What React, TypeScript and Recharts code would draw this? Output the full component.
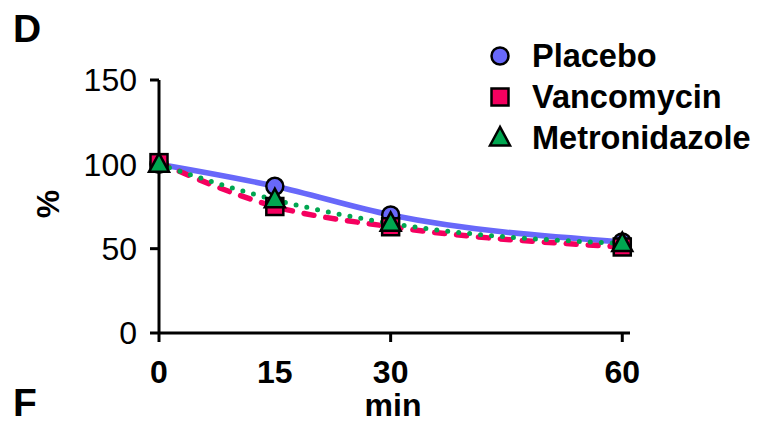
import { LineChart, Line, XAxis, YAxis } from 'recharts'

const FONT = '"Liberation Sans", Arial, sans-serif'

const TIMES = [0, 15, 30, 60]
const PLACEBO = [100, 87, 70, 54]
const VANCOMYCIN = [101, 75, 63, 51]
const METRONIDAZOLE = [100, 79, 65, 53]
const X_TICKS = [0, 15, 30, 60]
const X_TICK_MARKS = [0, 30, 60]
const Y_TICKS = [0, 50, 100, 150]

const BLUE = '#6868fa'
const PINK = '#f5005f'
const GREEN = '#00a650'

const data = TIMES.map((t, i) => ({
  t,
  placebo: PLACEBO[i],
  vanco: VANCOMYCIN[i],
  metro: METRONIDAZOLE[i],
}))

type Shape = 'circle' | 'square' | 'triangle'

function Marker({ shape, cx, cy, fill }: { shape: Shape; cx?: number; cy?: number; fill: string }) {
  if (cx == null || cy == null) return null
  if (shape === 'circle') return <circle cx={cx} cy={cy} r={8.5} fill={fill} stroke="#000" strokeWidth={2.5} />
  if (shape === 'square') return <rect x={cx - 8.5} y={cy - 8.5} width={17} height={17} fill={fill} stroke="#000" strokeWidth={2.5} />
  return (
    <polygon
      points={`${cx},${cy - 11} ${cx - 10},${cy + 7.5} ${cx + 10},${cy + 7.5}`}
      fill={fill} stroke="#000" strokeWidth={2.5} strokeLinejoin="miter"
    />
  )
}

function dotFor(shape: Shape, fill: string) {
  return (p: any) => <Marker key={`${shape}-${p.index}`} shape={shape} cx={p.cx} cy={p.cy} fill={fill} />
}

function XTick(props: any) {
  const { x, y, payload } = props
  const v = payload.value
  return (
    <g>
      {X_TICK_MARKS.includes(v) && <line x1={x} x2={x} y1={y} y2={y + 9} stroke="#000" strokeWidth={3} />}
      <text x={x} y={y + 50} textAnchor="middle" fontFamily={FONT} fontSize={32} fontWeight="bold" fill="#000">
        {v}
      </text>
    </g>
  )
}

const LEGEND = [
  { name: 'Placebo', shape: 'circle' as Shape, fill: BLUE },
  { name: 'Vancomycin', shape: 'square' as Shape, fill: PINK },
  { name: 'Metronidazole', shape: 'triangle' as Shape, fill: GREEN },
]

export default function App() {
  return (
    <div style={{ position: 'absolute', left: 0, top: 0, width: 776, height: 423, background: '#fff' }}>
      <LineChart width={776} height={423} data={data} margin={{ top: 80, right: 146, bottom: 0, left: 0 }}>
        <XAxis
          dataKey="t" type="number" domain={[0, 61]} ticks={X_TICKS} height={90}
          tickLine={false} tickSize={0} tickMargin={0} tick={<XTick />}
          axisLine={{ stroke: '#000', strokeWidth: 3 }}
        />
        <YAxis
          type="number" domain={[0, 150]} ticks={Y_TICKS} width={159}
          tickSize={9} tickMargin={13}
          tick={{ fontSize: 32, fill: '#000', fontFamily: FONT }}
          tickLine={{ stroke: '#000', strokeWidth: 3 }}
          axisLine={{ stroke: '#000', strokeWidth: 3 }}
        />
        <Line type="monotone" dataKey="placebo" stroke={BLUE} strokeWidth={5.5} dot={false} isAnimationActive={false} />
        <Line type="monotone" dataKey="vanco" stroke={PINK} strokeWidth={5.5} strokeDasharray="10 12" strokeLinecap="round" dot={false} isAnimationActive={false} />
        <Line type="monotone" dataKey="metro" stroke={GREEN} strokeWidth={5} strokeDasharray="0 11" strokeLinecap="round" dot={false} isAnimationActive={false} />
        <Line type="monotone" dataKey="placebo" stroke="none" dot={dotFor('circle', BLUE)} isAnimationActive={false} />
        <Line type="monotone" dataKey="vanco" stroke="none" dot={dotFor('square', PINK)} isAnimationActive={false} />
        <Line type="monotone" dataKey="metro" stroke="none" dot={dotFor('triangle', GREEN)} isAnimationActive={false} />
      </LineChart>
      <svg width={776} height={423} style={{ position: 'absolute', left: 0, top: 0, pointerEvents: 'none' }}>
        <g fontFamily={FONT} fontWeight="bold" fill="#000">
          <text x={13} y={42} fontSize={39}>D</text>
          <text x={13} y={416} fontSize={39}>F</text>
          <text x={0} y={0} fontSize={32} textAnchor="middle" transform="translate(59,204) rotate(-90)">%</text>
          <text x={393} y={416} fontSize={32} textAnchor="middle">min</text>
          {LEGEND.map((l, i) => (
            <g key={l.name}>
              <Marker shape={l.shape} cx={500} cy={56 + i * 41} fill={l.fill} />
              <text x={532} y={67 + i * 41} fontSize={32.5}>{l.name}</text>
            </g>
          ))}
        </g>
      </svg>
    </div>
  )
}
